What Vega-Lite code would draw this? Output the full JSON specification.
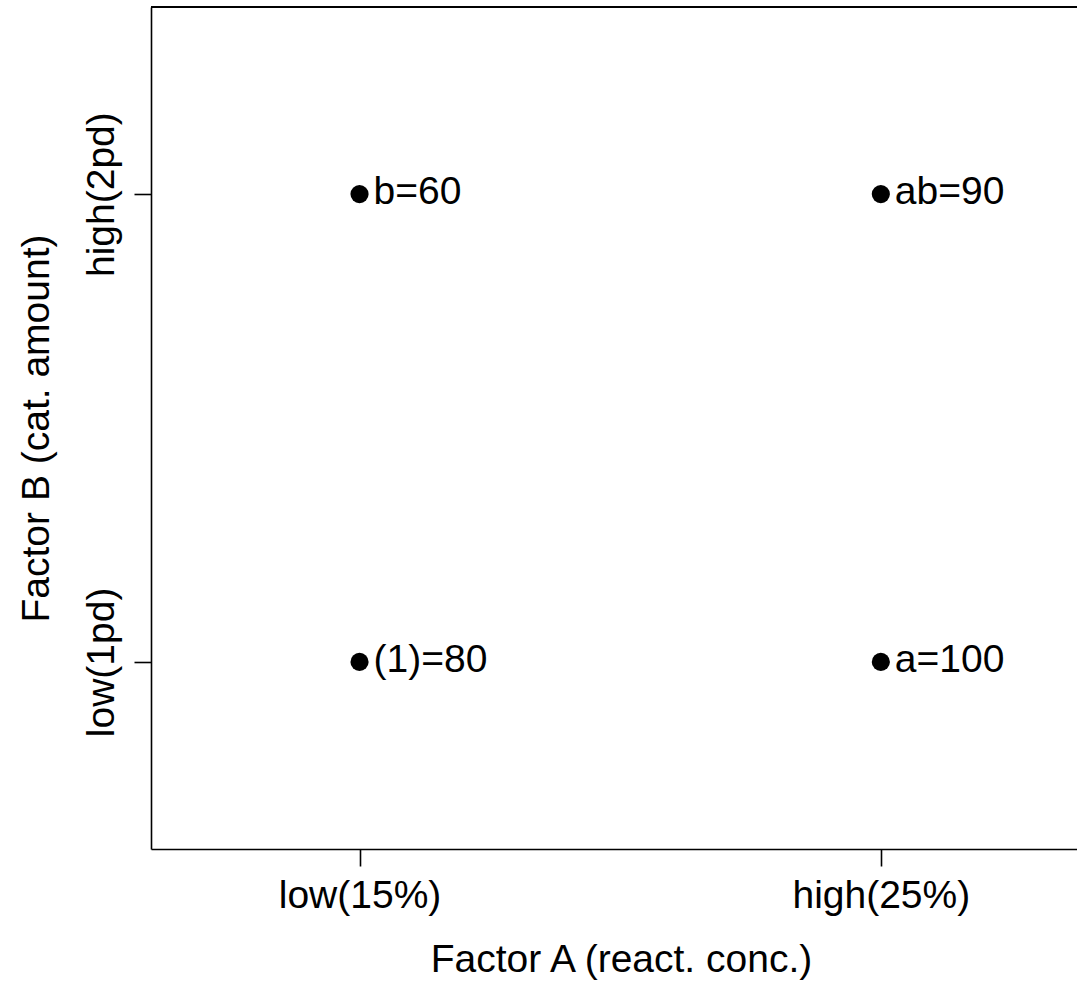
{
  "$schema": "https://vega.github.io/schema/vega-lite/v6.json",
  "width": 926,
  "height": 842,
  "autosize": {"type": "none"},
  "padding": {"left": 151, "top": 7, "right": 0, "bottom": 137},
  "background": "white",
  "config": {
    "view": {"stroke": null},
    "font": "Liberation Sans",
    "axis": {
      "grid": false,
      "domainColor": "black",
      "domainWidth": 1.6,
      "tickColor": "black",
      "tickWidth": 1.6,
      "tickSize": 17,
      "labelColor": "black",
      "labelFont": "Liberation Sans",
      "labelFontSize": 39,
      "titleColor": "black",
      "titleFont": "Liberation Sans",
      "titleFontSize": 39,
      "titleFontWeight": "normal",
      "labelOverlap": false,
      "labelFlush": false
    }
  },
  "data": {
    "values": [
      {"A": 0, "B": 0, "treatment": "(1)", "response": 80, "label": "(1)=80"},
      {"A": 1, "B": 0, "treatment": "a", "response": 100, "label": "a=100"},
      {"A": 0, "B": 1, "treatment": "b", "response": 60, "label": "b=60"},
      {"A": 1, "B": 1, "treatment": "ab", "response": 90, "label": "ab=90"}
    ]
  },
  "encoding": {
    "x": {
      "field": "A",
      "type": "quantitative",
      "scale": {"domain": [-0.4, 1.3763], "nice": false, "zero": false},
      "axis": {
        "values": [0, 1],
        "labelExpr": "datum.value == 0 ? 'low(15%)' : 'high(25%)'",
        "labelPadding": 41,
        "labelBaseline": "alphabetic",
        "labelAlign": "center",
        "title": "Factor A (react. conc.)",
        "titleX": 470,
        "titleY": 122,
        "titleAlign": "center",
        "titleBaseline": "alphabetic"
      }
    },
    "y": {
      "field": "B",
      "type": "quantitative",
      "scale": {"domain": [-0.4, 1.4], "nice": false, "zero": false},
      "axis": {
        "values": [0, 1],
        "labelExpr": "datum.value == 0 ? 'low(1pd)' : 'high(2pd)'",
        "labelAngle": 270,
        "labelAlign": "center",
        "labelBaseline": "alphabetic",
        "labelPadding": 21,
        "title": "Factor B (cat. amount)",
        "titleAngle": 270,
        "titleX": -103,
        "titleY": 421,
        "titleAlign": "center",
        "titleBaseline": "alphabetic"
      }
    }
  },
  "layer": [
    {
      "mark": {"type": "rule", "color": "black", "strokeWidth": 1.6},
      "encoding": {"y": {"datum": 1.4}, "x": null}
    },
    {
      "mark": {"type": "circle", "size": 330, "color": "black", "opacity": 1}
    },
    {
      "mark": {"type": "text", "align": "left", "baseline": "alphabetic", "dx": 14, "dy": 10, "fontSize": 39, "color": "black", "font": "Liberation Sans"},
      "encoding": {"text": {"field": "label"}}
    }
  ]
}
